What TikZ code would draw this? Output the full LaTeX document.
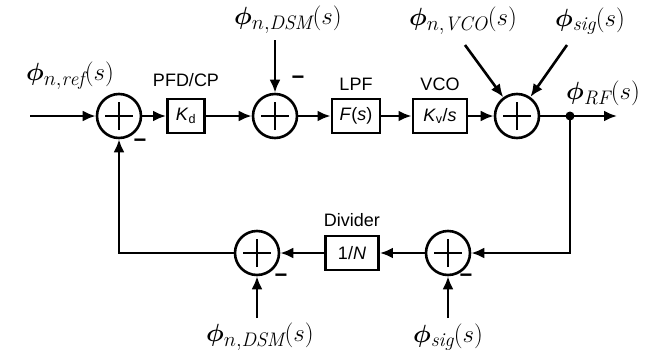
\documentclass[tikz,border=0pt]{standalone}
\usepackage{bm}
\usepackage{fontspec}
\setsansfont{Liberation Sans}
\usetikzlibrary{arrows.meta}

\begin{document}
\begin{tikzpicture}[x=1pt, y=-1pt,
  sumnode/.style={circle, draw, line width=2.6pt, minimum size=44pt, inner sep=0pt,
    path picture={
      \draw[line width=2.4pt] ([xshift=-14pt]path picture bounding box.center) -- ([xshift=14pt]path picture bounding box.center);
      \draw[line width=2.4pt] ([yshift=-14pt]path picture bounding box.center) -- ([yshift=14pt]path picture bounding box.center);}},
  blockbox/.style={draw, line width=2.8pt, minimum height=34pt, inner sep=0pt, font=\sffamily\fontsize{18}{21}\selectfont},
  sig/.style={font=\fontsize{28}{32}\selectfont, inner sep=0pt},
  lbl/.style={font=\sffamily\fontsize{18}{21}\selectfont, inner sep=0pt},
  minussign/.style={font=\sffamily\bfseries\fontsize{22}{24}\selectfont, inner sep=0pt},
  wire/.style={line width=2.6pt, -{Latex[length=13pt,width=11pt]}}]
  \useasboundingbox (0,0) rectangle (654,354);

  % Forward path
  \coordinate (refin) at (30,116);
  \node[sumnode] (s1) at (119,116) {};
  \node[blockbox, minimum width=37pt] (kd) at (186,116) {\textit{K}\textsubscript{d}};
  \node[sumnode] (s2) at (275,116) {};
  \node[blockbox, minimum width=48pt] (lpf) at (356,116) {\textit{F}(\textit{s})};
  \node[blockbox, minimum width=54pt] (vco) at (440,116) {\textit{K}\textsubscript{v}/\textit{s}};
  \node[sumnode] (s3) at (517,116) {};
  \node[circle, fill, inner sep=0pt, minimum size=9pt] (tap) at (570,116) {};
  \coordinate (rfout) at (617,116);

  \draw[wire] (refin) -- (s1);
  \draw[wire] (s1) -- (kd);
  \draw[wire] (kd) -- (s2);
  \draw[wire] (s2) -- (lpf);
  \draw[wire] (lpf) -- (vco);
  \draw[wire] (vco) -- (s3);
  \draw[wire] (s3) -- (rfout);

  % Feedback path
  \node[blockbox, minimum width=53pt] (div) at (352,253) {1/\textit{N}};
  \node[sumnode] (s5) at (448,253) {};
  \node[sumnode] (s4) at (257,253) {};
  \coordinate (fbr) at (570,253);
  \coordinate (fbl) at (119,253);

  \draw[wire] (tap.center) -- (fbr) -- (s5);
  \draw[wire] (s5) -- (div);
  \draw[wire] (div) -- (s4);
  \draw[wire] (s4) -- (fbl) -- (s1);

  % Noise inputs
  \coordinate (dsmtop) at (275,40);
  \coordinate (vcoin) at (465,45);
  \coordinate (sigin) at (567,45);
  \coordinate (dsmbot) at (257,318);
  \coordinate (sigbot) at (448,318);
  \draw[wire] (dsmtop) -- (s2);
  \draw[wire] (vcoin) -- (s3);
  \draw[wire] (sigin) -- (s3);
  \draw[wire] (dsmbot) -- (s4);
  \draw[wire] (sigbot) -- (s5);

  % Signal labels
  \node[sig] (lref) at (70,76) {$\bm{\phi}_{n,\mathit{ref}}(s)$};
  \node[sig] (ldsmt) at (288,20) {$\bm{\phi}_{n,\mathit{DSM}}(s)$};
  \node[sig] (lvco) at (463,21) {$\bm{\phi}_{n,\mathit{VCO}}(s)$};
  \node[sig] (lsigt) at (590,21) {$\bm{\phi}_{\mathit{sig}}(s)$};
  \node[sig] (lrf) at (603,93) {$\bm{\phi}_{\mathit{RF}}(s)$};
  \node[sig] (ldsmb) at (260,337) {$\bm{\phi}_{n,\mathit{DSM}}(s)$};
  \node[sig] (lsigb) at (448,337) {$\bm{\phi}_{\mathit{sig}}(s)$};

  % Block labels
  \node[lbl] (tpfd) at (186,80) {PFD/CP};
  \node[lbl] (tlpf) at (356,84) {LPF};
  \node[lbl] (tvco) at (440,84) {VCO};
  \node[lbl] (tdiv) at (352,220) {Divider};

  % Minus signs
  \node[minussign] (m1) at (140,143) {−};
  \node[minussign] (m2) at (298,80) {−};
  \node[minussign] (m4) at (281,278) {−};
  \node[minussign] (m5) at (466,278) {−};
\end{tikzpicture}
\end{document}
